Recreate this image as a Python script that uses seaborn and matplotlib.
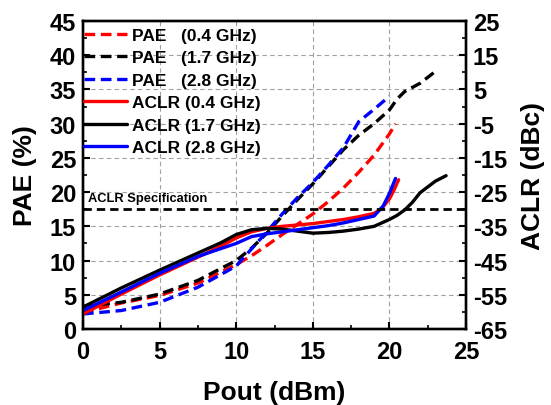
import matplotlib
matplotlib.use("Agg")
import matplotlib.pyplot as plt
from matplotlib.ticker import MultipleLocator, FixedLocator
import seaborn as sns
import pandas as pd

# Power-added efficiency (%) versus output power (dBm)
pae_04_x = [0, 2.5, 5, 7.5, 10, 11, 12, 13, 14, 15, 16, 17, 18, 19, 20, 20.4]
pae_04_y = [2.4, 3.8, 4.9, 6.7, 9.4, 10.7, 12.2, 13.8, 15.3, 16.8, 18.6, 20.6, 22.9, 25.4, 28.5, 30.0]

pae_17_x = [0, 2.5, 5, 7.5, 10, 11, 12, 13, 14, 15, 16, 17, 18, 19, 20, 20.5, 21, 22, 23.1]
pae_17_y = [3.3, 3.9, 5.1, 7.1, 10.0, 11.8, 14.0, 16.5, 18.9, 21.2, 23.7, 26.2, 28.3, 30.0, 32.0, 33.6, 34.7, 35.9, 37.8]

pae_28_x = [0, 2.5, 5, 7.5, 10, 11, 12, 13, 14, 15, 16, 17, 18, 19, 20]
pae_28_y = [2.2, 2.7, 3.9, 6.1, 9.2, 11.7, 14.2, 16.8, 19.2, 21.4, 23.9, 26.5, 30.3, 32.1, 34.0]

# Adjacent channel leakage ratio (dBc) versus output power (dBm)
aclr_04_x = [0, 2.5, 5, 7.5, 9, 10, 11, 12, 13, 14, 15, 16, 17, 18, 19, 19.5, 20, 20.3, 20.6]
aclr_04_y = [-60.6, -54.8, -49.2, -44.0, -40.8, -38.4, -36.6, -35.6, -35.0, -34.6, -34.2, -33.6, -33.0, -32.2, -31.2, -29.8, -27.0, -24.4, -21.4]

aclr_17_x = [0, 2.5, 5, 7.5, 9, 10, 11, 12, 13, 14, 15, 16, 17, 18, 19, 20, 20.5, 21, 21.5, 22, 23, 23.7]
aclr_17_y = [-58.6, -53.0, -47.8, -42.8, -39.8, -37.4, -36.0, -35.6, -35.8, -36.4, -37.0, -36.8, -36.4, -35.8, -35.0, -33.0, -31.8, -30.2, -28.0, -25.2, -21.8, -20.2]

aclr_28_x = [0, 2.5, 5, 7.5, 9, 10, 11, 12, 13, 14, 15, 16, 17, 18, 19, 19.6, 20, 20.4]
aclr_28_y = [-59.6, -54.2, -48.7, -43.8, -41.5, -40.0, -38.0, -37.2, -36.6, -36.0, -35.4, -34.8, -34.0, -33.0, -32.0, -29.0, -25.4, -21.0]

aclr_spec = -30
spec_x = [0, 25]

aclr_ticks = [-65, -55, -45, -35, -25, -15, -5, 5, 15, 25]

pae_labels = ["PAE   (0.4 GHz)", "PAE   (1.7 GHz)", "PAE   (2.8 GHz)"]
aclr_labels = ["ACLR (0.4 GHz)", "ACLR (1.7 GHz)", "ACLR (2.8 GHz)"]
colors = ["#ff0000", "#000000", "#0000ff"]

sns.set_style("ticks")
plt.rcParams["font.family"] = ["Liberation Sans", "DejaVu Sans"]
plt.rcParams["font.weight"] = "bold"
plt.rcParams["axes.unicode_minus"] = False
plt.rcParams["text.color"] = "black"
plt.rcParams["axes.labelcolor"] = "black"
plt.rcParams["xtick.color"] = "black"
plt.rcParams["ytick.color"] = "black"
plt.rcParams["axes.edgecolor"] = "black"

fig = plt.figure(figsize=(5.51, 4.06), dpi=100)
ax = fig.add_axes([83 / 551, 76 / 406, 383 / 551, 308 / 406])
ax2 = ax.twinx()

lw = 2.4
dash = (3.2, 1.7)
handles = []

pae_sets = [(pae_04_x, pae_04_y), (pae_17_x, pae_17_y), (pae_28_x, pae_28_y)]
for (xs, ys), c, lab in zip(pae_sets, colors, pae_labels):
    df = pd.DataFrame({"pout": xs, "pae": ys})
    sns.lineplot(data=df, x="pout", y="pae", ax=ax, color=c, lw=lw,
                 sort=False, legend=False)
    line = ax.lines[-1]
    line.set_dashes(dash)
    line.set_label(lab)
    handles.append(line)

aclr_sets = [(aclr_04_x, aclr_04_y), (aclr_17_x, aclr_17_y), (aclr_28_x, aclr_28_y)]
for (xs, ys), c, lab in zip(aclr_sets, colors, aclr_labels):
    df = pd.DataFrame({"pout": xs, "aclr": ys})
    sns.lineplot(data=df, x="pout", y="aclr", ax=ax2, color=c, lw=lw,
                 sort=False, legend=False)
    line = ax2.lines[-1]
    line.set_label(lab)
    handles.append(line)

spec_df = pd.DataFrame({"pout": spec_x, "aclr": [aclr_spec, aclr_spec]})
sns.lineplot(data=spec_df, x="pout", y="aclr", ax=ax2, color="black", lw=2.0,
             legend=False)
ax2.lines[-1].set_dashes((3.0, 1.8))
ax2.text(0.3, aclr_spec + 1.4, "ACLR Specification", fontsize=9.3,
         fontweight="bold", ha="left", va="bottom")

ax.set_xlim(0, 25)
ax.set_ylim(0, 45)
ax2.set_ylim(-65, 25)

ax.xaxis.set_major_locator(MultipleLocator(5))
ax.xaxis.set_minor_locator(MultipleLocator(2.5))
ax.yaxis.set_major_locator(MultipleLocator(5))
ax.yaxis.set_minor_locator(MultipleLocator(2.5))
ax2.yaxis.set_major_locator(FixedLocator(aclr_ticks))
ax2.yaxis.set_minor_locator(FixedLocator([t + 5 for t in aclr_ticks[:-1]]))

ax.grid(True, which="major", color="#a0a0a0", linestyle=(0, (4, 3)), lw=0.8)

for a in (ax, ax2):
    for s in a.spines.values():
        s.set_linewidth(1.7)
        s.set_visible(True)
    a.tick_params(which="major", direction="in", length=5, width=1.5, labelsize=17)
    a.tick_params(which="minor", direction="in", length=3, width=1.2)

ax.tick_params(axis="y", pad=5)
ax.tick_params(axis="x", pad=8)
ax2.tick_params(axis="y", pad=5)
for lab in ax.get_xticklabels() + ax.get_yticklabels() + ax2.get_yticklabels():
    lab.set_fontweight("bold")

ax.set_xlabel("Pout (dBm)", fontsize=19, fontweight="bold", labelpad=12)
ax.set_ylabel("PAE (%)", fontsize=19, fontweight="bold", labelpad=9)
ax2.set_ylabel("ACLR (dBc)", fontsize=19, fontweight="bold", labelpad=10)

leg = ax2.legend(handles=handles, loc="upper left", bbox_to_anchor=(-0.025, 1.012),
                 frameon=False, fontsize=12.5, handlelength=2.5,
                 handletextpad=0.25, labelspacing=0.42, borderaxespad=0.2)
for t in leg.get_texts():
    t.set_fontweight("bold")

fig.savefig("out.png", dpi=100)
